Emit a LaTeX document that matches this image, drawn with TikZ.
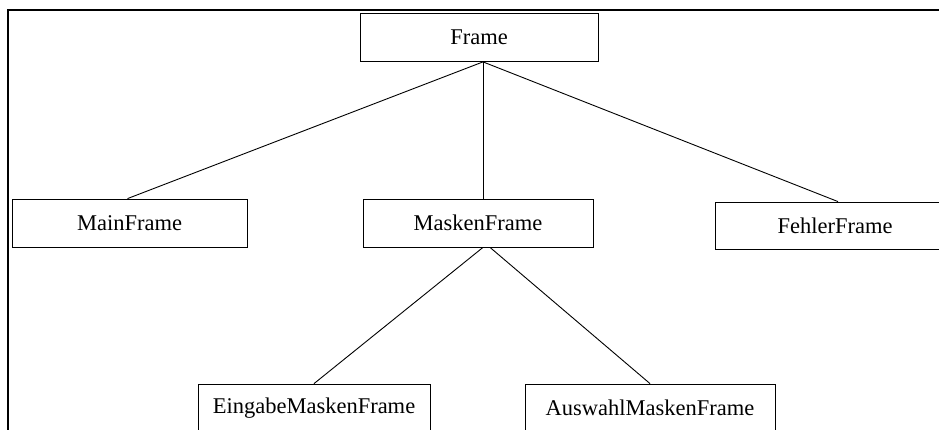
\documentclass[tikz,border=0pt]{standalone}
\usepackage{fontspec}
\setmainfont{Liberation Serif}
\begin{document}
\begin{tikzpicture}[x=1pt,y=-1pt,
  cls/.style={draw, line width=0.8pt, minimum height=48pt, inner sep=0pt,
              font=\fontsize{22.5}{27}\selectfont},
  link/.style={line width=0.9pt},
  border/.style={line width=2pt}]
\useasboundingbox (0,0) rectangle (939,430);
\begin{scope}
  \clip (0,0) rectangle (939,430);
  % class boxes
  \node[cls, minimum width=238pt] (frame)   at (479,37.5)  {Frame};
  \node[cls, minimum width=235pt] (main)    at (129.5,223) {MainFrame};
  \node[cls, minimum width=230pt] (masken)  at (478,223)   {MaskenFrame};
  \node[cls, minimum width=240pt, minimum height=47pt] (fehler) at (835,225.5) {FehlerFrame};
  \node[cls, minimum width=232pt] (eingabe) at (314,408) {EingabeMaskenFrame};
  \node[cls, minimum width=250pt] (auswahl) at (650,408) {AuswahlMaskenFrame};
  % inheritance links
  \draw[link] ([xshift=4pt]frame.south) -- ([xshift=-2pt]main.north);
  \draw[link] ([xshift=4pt]frame.south) -- ([xshift=5pt]masken.north);
  \draw[link] ([xshift=4pt]frame.south) -- ([xshift=3pt]fehler.north);
  \draw[link] ([xshift=5pt]masken.south) -- (eingabe.north);
  \draw[link] ([xshift=12pt]masken.south) -- (auswahl.north);
  % page border
  \draw[border] (7.5,430) -- (7.5,10) -- (939,10);
\end{scope}
\end{tikzpicture}
\end{document}
